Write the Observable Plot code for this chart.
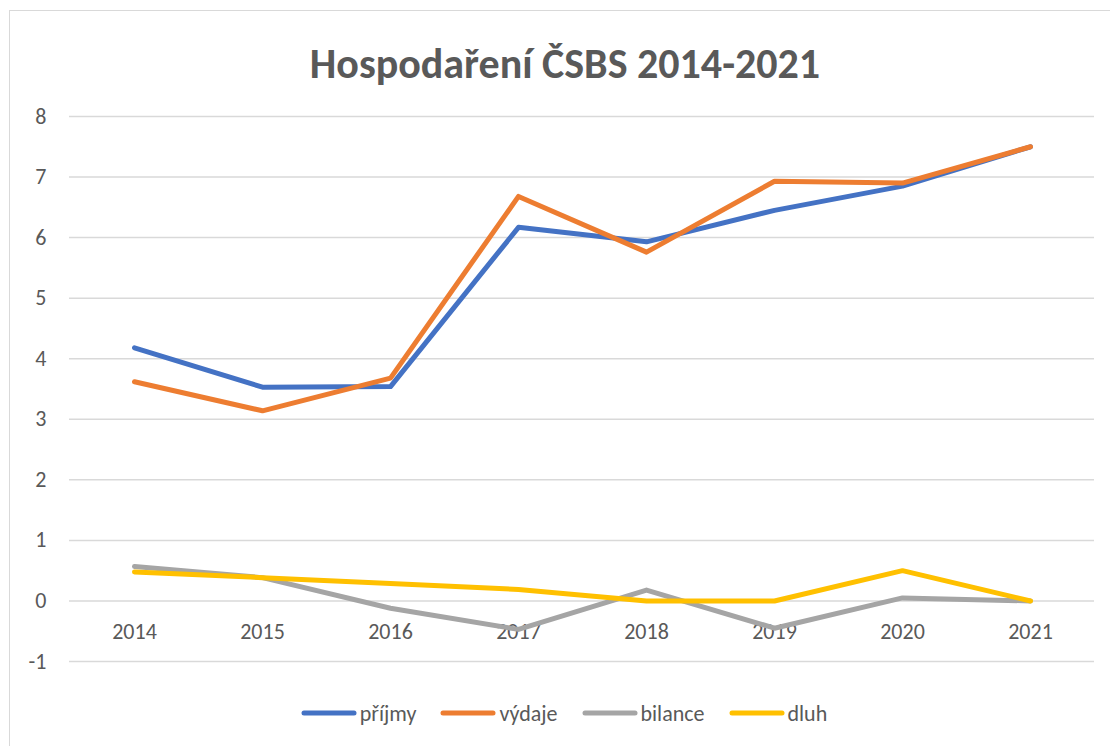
<!DOCTYPE html>
<html>
<head>
<meta charset="utf-8">
<script src="https://cdn.jsdelivr.net/npm/d3@7"></script>
<script src="https://cdn.jsdelivr.net/npm/@observablehq/plot@0.6"></script>
<style>
  html, body { margin: 0; padding: 0; background: #fff; }
  #wrap { position: relative; width: 1110px; height: 746px; overflow: hidden; font-family: Carlito, Lato, "Open Sans", sans-serif; }
  #frame { position: absolute; left: 9px; top: 10px; width: 1200px; height: 900px; border: 1.5px solid #d9d9d9; box-sizing: border-box; }
  #title { position: absolute; left: 10px; width: 1110px; top: 39px; height: 50px; line-height: 50px; text-align: center; font-size: 42px; font-weight: bold; color: #595959; white-space: nowrap; }
  #chart { position: absolute; left: 0; top: 100px; }
  #legend { position: absolute; left: 0; width: 1128px; top: 700px; height: 26px; display: flex; justify-content: center; align-items: center; font-size: 22px; color: #595959; }
  .item { display: flex; align-items: center; margin: 0 12px; }
  .item svg { margin-right: 3px; }
</style>
</head>
<body>
<div id="wrap">
  <div id="frame"></div>
  <div id="title">Hospodaření ČSBS 2014-2021</div>
  <div id="chart"></div>
  <div id="legend"></div>
</div>
<script>
const years = ["2014", "2015", "2016", "2017", "2018", "2019", "2020", "2021"];
const prijmy  = [4.18, 3.53, 3.54, 6.17, 5.93, 6.45, 6.85, 7.50];
const vydaje  = [3.62, 3.14, 3.68, 6.68, 5.76, 6.93, 6.90, 7.50];
const bilance = [0.57, 0.385, -0.12, -0.47, 0.18, -0.45, 0.05, 0.00];
const dluh    = [0.48, 0.385, 0.29, 0.19, 0.00, 0.00, 0.50, 0.00];
const seriesNames = ["příjmy", "výdaje", "bilance", "dluh"];
const seriesColors = ["#4472c4", "#ed7d31", "#a5a5a5", "#ffc000"];
const yTicks = [-1, 0, 1, 2, 3, 4, 5, 6, 7, 8];

const seriesValues = [prijmy, vydaje, bilance, dluh];
const rows = seriesValues.map((vals, s) => years.map((yr, i) => ({year: yr, value: vals[i], name: seriesNames[s]})));

const font = "Carlito, Lato, 'Open Sans', sans-serif";
const chart = Plot.plot({
  width: 1110,
  height: 590,
  marginLeft: 69,
  marginRight: 16,
  marginTop: 16,
  marginBottom: 29,
  x: {type: "point", domain: years, padding: 0.5, axis: null},
  y: {domain: [-1, 8], axis: null},
  style: {fontFamily: font, fontSize: "22px", color: "#595959", background: "transparent", overflow: "visible"},
  marks: [
    Plot.gridY(yTicks, {stroke: "#d9d9d9", strokeOpacity: 1, strokeWidth: 1.5}),
    Plot.axisY(yTicks, {label: null, tickSize: 0, tickPadding: 23, fontSize: 22, fill: "#595959", tickFormat: d => d < 0 ? "-" + Math.abs(d) : String(d)}),
    Plot.text(years, {x: d => d, y: () => 0, dy: 31, text: d => d, fill: "#595959", fontSize: 22}),
    ...rows.map((r, s) => Plot.line(r, {x: "year", y: "value", stroke: seriesColors[s], strokeWidth: 5, strokeLinecap: "round", strokeLinejoin: "round"}))
  ]
});
document.getElementById("chart").appendChild(chart);

const legend = document.getElementById("legend");
seriesNames.forEach((n, i) => {
  const item = document.createElement("div");
  item.className = "item";
  item.innerHTML = `<svg width="56" height="10"><line x1="3" y1="5" x2="53" y2="5" stroke="${seriesColors[i]}" stroke-width="5" stroke-linecap="round"/></svg><span>${n}</span>`;
  legend.appendChild(item);
});
</script>
</body>
</html>
